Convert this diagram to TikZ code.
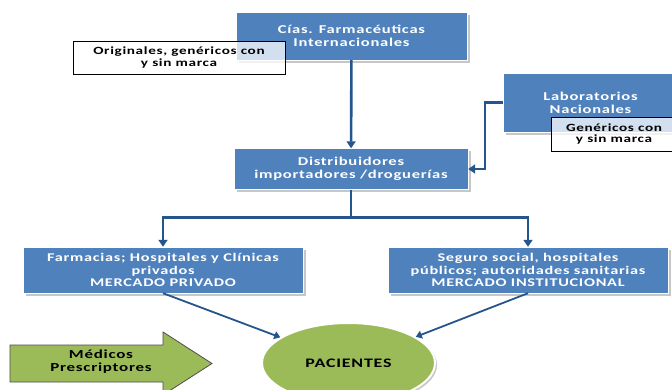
\documentclass[tikz,border=0pt]{standalone}
\usepackage{fontspec}
\setsansfont{Carlito}[FakeStretch=1.38,LetterSpace=6]
\usetikzlibrary{arrows.meta,positioning,shapes.geometric,shadows}

\definecolor{boxblue}{RGB}{79,129,189}
\definecolor{linkblue}{RGB}{38,84,140}
\definecolor{leafgreen}{RGB}{155,187,89}

\begin{document}
\begin{tikzpicture}[x=1pt,y=-1pt,
  b/.style={draw=white,thin,fill=boxblue,text=white,font=\sffamily\bfseries\fontsize{12}{13.3}\selectfont,align=center,inner sep=0pt,
    drop shadow={fill=black!22,opacity=1,shadow xshift=3pt,shadow yshift=-3pt}},
  bb/.style={b,minimum width=280pt,minimum height=46pt,font=\sffamily\bfseries\fontsize{11.8}{12.8}\selectfont},
  lbl/.style={draw=black,fill=white,fill opacity=0.75,text opacity=1,font=\sffamily\bfseries\fontsize{11}{11.7}\selectfont,align=center,inner sep=0pt},
  lnk/.style={draw=linkblue,line width=2.6pt,-{Triangle[width=9pt,length=7pt]}},
  thinlnk/.style={draw=linkblue,line width=1.8pt,-{Triangle[width=8pt,length=6pt]}}]
  \path[use as bounding box,clip] (0,0) rectangle (672,390);
  % boxes
  \node[b,minimum width=231pt,minimum height=48pt] (cias) at (351.5,36) {Cías. Farmacéuticas\\Internacionales};
  \node[lbl,minimum width=212pt,minimum height=33pt] (orig) at (179,57.5) {Originales, genéricos con\\y sin marca};
  \node[b,minimum width=234pt,minimum height=41pt] (dist) at (351,169) {Distribuidores\\importadores /droguerías};
  \node[b,minimum width=175pt,minimum height=59pt] (lab) at (590.5,102.5) {Laboratorios\\Nacionales};
  \node[lbl,minimum width=126pt,minimum height=34pt] (gen) at (614,134) {Genéricos con\\y sin marca};
  \node[bb] (farm) at (163,270) {Farmacias; Hospitales y Clínicas\\privados\\MERCADO PRIVADO};
  \node[bb] (seg) at (528,270) {Seguro social, hospitales\\públicos; autoridades sanitarias\\MERCADO INSTITUCIONAL};
  \node[ellipse,draw=white,line width=2pt,fill=leafgreen,minimum width=173pt,minimum height=80pt,font=\sffamily\bfseries\fontsize{13}{14}\selectfont,
    drop shadow={fill=black!22,opacity=1,shadow xshift=2pt,shadow yshift=-2pt}] (pac) at (348.5,363) {PACIENTES};
  % medicos arrow
  \draw[draw=black!70,fill=leafgreen,line width=0.8pt] (10,345) -- (163,345) -- (163,332) -- (212,363.5) -- (163,395) -- (163,382) -- (10,382) -- cycle;
  \node[font=\sffamily\bfseries\fontsize{12.3}{13}\selectfont,align=center] (med) at (101,362) {Médicos\\Prescriptores};
  % links
  \draw[lnk] (cias) -- (dist);
  \draw[lnk] (lab.west) -- ++(-18,0) |- (dist.east);
  \draw[draw=linkblue,line width=2.6pt] (dist.south) -- ++(0,28) coordinate (split);
  \draw[lnk] (split) -| (farm.north);
  \draw[lnk] (split) -| (seg.north);
  \draw[thinlnk] (farm.south) -- (pac);
  \draw[thinlnk] (seg.south) -- (pac);
\end{tikzpicture}
\end{document}
